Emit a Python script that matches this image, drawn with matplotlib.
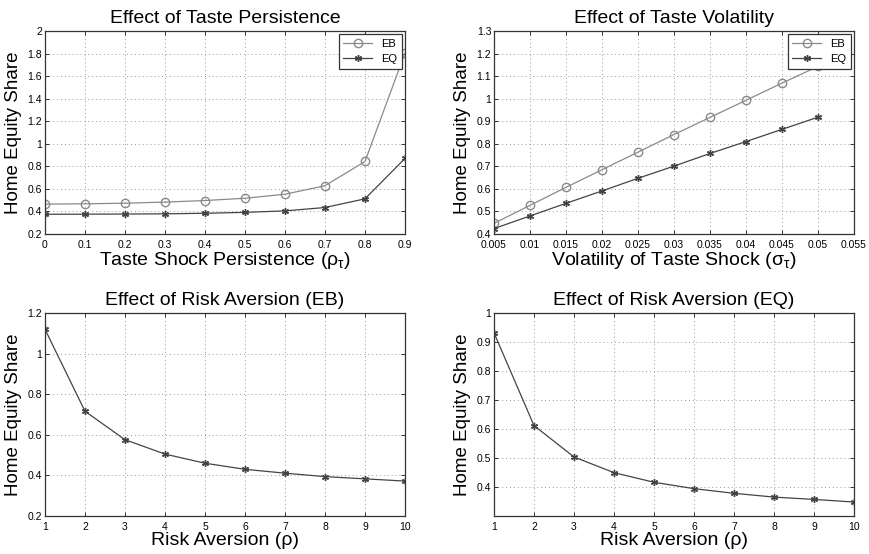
"""Home equity share: effect of taste persistence, taste volatility and risk aversion."""

import matplotlib
matplotlib.use("Agg")
import matplotlib.pyplot as plt
import numpy as np

plt.rcParams["font.family"] = ["Liberation Sans", "DejaVu Sans"]
plt.rcParams["mathtext.fontset"] = "custom"
plt.rcParams["mathtext.rm"] = "Liberation Sans"
plt.rcParams["mathtext.it"] = "Liberation Sans:italic"
plt.rcParams["mathtext.default"] = "regular"

# data
persistence = [0.0, 0.1, 0.2, 0.3, 0.4, 0.5, 0.6, 0.7, 0.8, 0.9]
persist_eb = [0.465, 0.468, 0.473, 0.483, 0.497, 0.517, 0.553, 0.628, 0.843, 1.805]
persist_eq = [0.375, 0.376, 0.377, 0.379, 0.384, 0.392, 0.405, 0.435, 0.512, 0.870]

volatility = [0.005, 0.010, 0.015, 0.020, 0.025, 0.030, 0.035, 0.040, 0.045, 0.050]
vol_eb = [0.447, 0.527, 0.607, 0.685, 0.763, 0.841, 0.917, 0.993, 1.069, 1.143]
vol_eq = [0.424, 0.480, 0.536, 0.591, 0.647, 0.701, 0.757, 0.810, 0.864, 0.918]

risk_aversion = [1, 2, 3, 4, 5, 6, 7, 8, 9, 10]
risk_eb = [1.120, 0.716, 0.576, 0.505, 0.460, 0.430, 0.411, 0.394, 0.383, 0.372]
risk_eq = [0.932, 0.613, 0.505, 0.451, 0.418, 0.396, 0.380, 0.367, 0.359, 0.350]

EB_COLOR = "#8a8a8a"
EQ_COLOR = "#444444"
ASTERISK = (6, 2, 0)


def style(ax, title, xlabel):
    ax.set_title(title, fontsize=14, pad=6)
    ax.set_xlabel(xlabel, fontsize=14, labelpad=0)
    ax.set_ylabel("Home Equity Share", fontsize=13.5, labelpad=4)
    ax.grid(True, linestyle=(0, (1, 3)), color="#9a9a9a", linewidth=0.7)
    ax.tick_params(direction="in", top=True, right=True, labelsize=7.5,
                   length=3, width=0.7, color="#333333", pad=2)
    ax.tick_params(axis="x", pad=4.5)
    for s in ax.spines.values():
        s.set_color("#333333")
        s.set_linewidth(0.9)


def fmt(v):
    return ("%g" % v)


fig = plt.figure(figsize=(8.7, 5.54), dpi=100)
w, h = 0.4138, 0.3664
ax1 = fig.add_axes([0.0517, 0.5776, w, h])
ax2 = fig.add_axes([0.5678, 0.5776, w, h])
ax3 = fig.add_axes([0.0517, 0.0686, w, h])
ax4 = fig.add_axes([0.5678, 0.0686, w, h])

# top left
ax1.plot(persistence, persist_eb, color=EB_COLOR, lw=0.9, marker="o", ms=6,
         mfc="none", mec=EB_COLOR, label="EB")
ax1.plot(persistence, persist_eq, color=EQ_COLOR, lw=0.9, marker=ASTERISK, ms=5,
         mec=EQ_COLOR, label="EQ")
ax1.set_xlim(0, 0.9)
ax1.set_ylim(0.2, 2)
yt = np.round(np.arange(0.2, 2.01, 0.2), 2)
ax1.set_yticks(yt, [fmt(v) for v in yt])
xt = np.round(np.arange(0, 0.91, 0.1), 2)
ax1.set_xticks(xt, [fmt(v) for v in xt])
style(ax1, "Effect of Taste Persistence", r"Taste Shock Persistence ($\rho_\tau$)")

# top right
ax2.plot(volatility, vol_eb, color=EB_COLOR, lw=0.9, marker="o", ms=6,
         mfc="none", mec=EB_COLOR, label="EB")
ax2.plot(volatility, vol_eq, color=EQ_COLOR, lw=0.9, marker=ASTERISK, ms=5,
         mec=EQ_COLOR, label="EQ")
ax2.set_xlim(0.005, 0.055)
ax2.set_ylim(0.4, 1.3)
yt = np.round(np.arange(0.4, 1.31, 0.1), 2)
ax2.set_yticks(yt, [fmt(v) for v in yt])
xt = np.round(np.arange(0.005, 0.0551, 0.005), 3)
ax2.set_xticks(xt, [fmt(v) for v in xt])
style(ax2, "Effect of Taste Volatility", r"Volatility of Taste Shock ($\sigma_\tau$)")

for ax in (ax1, ax2):
    leg = ax.legend(loc="upper right", fontsize=8, fancybox=False, framealpha=1,
                    edgecolor="#333333", borderpad=0.4, handlelength=2.6,
                    borderaxespad=0.3, labelspacing=0.5)
    leg.get_frame().set_linewidth(0.9)

# bottom left
ax3.plot(risk_aversion, risk_eb, color=EQ_COLOR, lw=0.9, marker=ASTERISK, ms=5,
         mec=EQ_COLOR)
ax3.set_xlim(1, 10)
ax3.set_ylim(0.2, 1.2)
yt = np.round(np.arange(0.2, 1.21, 0.2), 2)
ax3.set_yticks(yt, [fmt(v) for v in yt])
ax3.set_xticks(risk_aversion)
style(ax3, "Effect of Risk Aversion (EB)", "Risk Aversion (ρ)")

# bottom right
ax4.plot(risk_aversion, risk_eq, color=EQ_COLOR, lw=0.9, marker=ASTERISK, ms=5,
         mec=EQ_COLOR)
ax4.set_xlim(1, 10)
ax4.set_ylim(0.302, 1.0)
yt = np.round(np.arange(0.4, 1.01, 0.1), 2)
ax4.set_yticks(yt, [fmt(v) for v in yt])
ax4.set_xticks(risk_aversion)
style(ax4, "Effect of Risk Aversion (EQ)", "Risk Aversion (ρ)")

fig.savefig("out.png", dpi=100)
